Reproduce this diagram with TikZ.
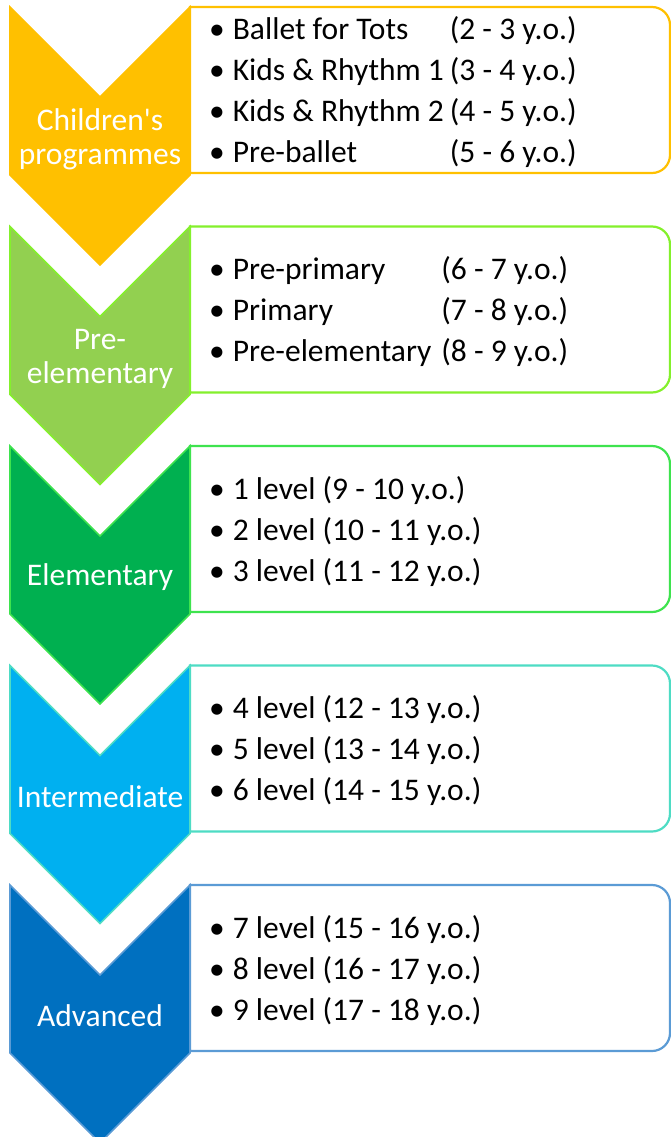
\documentclass[tikz,border=0pt]{standalone}
\usepackage{fontspec}
\setmainfont{Carlito}
\usepackage{xcolor,tikz}
\usetikzlibrary{positioning,calc}
\definecolor{progGold}{HTML}{FFC000}
\definecolor{progGoldLine}{HTML}{FFC000}
\definecolor{progLime}{HTML}{92D050}
\definecolor{progLimeLine}{HTML}{84F02C}
\definecolor{progGreen}{HTML}{00B050}
\definecolor{progGreenLine}{HTML}{3EE34E}
\definecolor{progCyan}{HTML}{00B0F0}
\definecolor{progCyanLine}{HTML}{4EDCC4}
\definecolor{progBlue}{HTML}{0070C0}
\definecolor{progBlueLine}{HTML}{5B9BD5}

\tikzset{
  stageLabel/.style={text=white, align=center, inner sep=0pt,
    font=\fontsize{31.5}{34}\selectfont},
  stageList/.style={text=black, anchor=west, inner sep=0pt,
    font=\fontsize{31.5}{41}\selectfont}
}

\begin{document}
\begin{tikzpicture}[x=1pt, y=-1pt]

\useasboundingbox (0,0) rectangle (671,1137);

\def\xL{10}           % chevron left edge
\def\xR{190}          % chevron right edge / box left edge
\def\xE{670}          % box right edge
\def\yO{7}            % top of first stage
\def\pitch{219.5}     % vertical step between stages
\def\notch{90}        % chevron notch depth
\def\side{168}        % chevron side length
\def\boxH{166}        % box height
\def\rad{18}          % box corner radius

% --- STAGES: box + chevron ---
\foreach \k/\cFill/\cLine in {0/progGold/progGoldLine, 1/progLime/progLimeLine,
    2/progGreen/progGreenLine, 3/progCyan/progCyanLine, 4/progBlue/progBlueLine} {
  \pgfmathsetmacro\T{\yO + \k*\pitch}
  % box, rounded on the right
  \draw[draw=\cLine, line width=2.2pt, fill=white]
    (\xR, \T) -- (\xE - \rad, \T)
    arc[start angle=-90, end angle=0, radius=\rad]
    -- (\xE, \T + \boxH - \rad)
    arc[start angle=0, end angle=90, radius=\rad]
    -- (\xR, \T + \boxH) -- cycle;
  % chevron
  \draw[draw=\cLine, line width=1.6pt, fill=\cFill, line join=miter]
    (\xL, \T) -- (100, \T + \notch) -- (\xR, \T)
    -- (\xR, \T + \side) -- (100, \T + \side + \notch)
    -- (\xL, \T + \side) -- cycle;
}

% --- LABELS ---
\node[stageLabel] (lblChild) at (100, \yO + 132) {Children\textquotesingle s\\programmes};
\node[stageLabel] (lblPreEl) at (100, \yO + \pitch + 132) {Pre-\\elementary};
\node[stageLabel] (lblElem) at (100, \yO + 2*\pitch + 131) {Elementary};
\node[stageLabel] (lblInter) at (100, \yO + 3*\pitch + 131) {Intermediate};
\node[stageLabel] (lblAdv) at (100, \yO + 4*\pitch + 131) {Advanced};

% --- LISTS ---
\node[stageList] (lstChild) at (209, \yO + 86) {%
  \begin{tabular}{@{}l@{\hspace{8pt}}l@{\hspace{6pt}}l@{}}
  \textbullet & Ballet for Tots & (2 - 3 y.o.)\\
  \textbullet & Kids \& Rhythm 1 & (3 - 4 y.o.)\\
  \textbullet & Kids \& Rhythm 2 & (4 - 5 y.o.)\\
  \textbullet & Pre-ballet & (5 - 6 y.o.)
  \end{tabular}};
\node[stageList] (lstPreEl) at (209, \yO + \pitch + 86) {%
  \begin{tabular}{@{}l@{\hspace{8pt}}l@{\hspace{10pt}}l@{}}
  \textbullet & Pre-primary & (6 - 7 y.o.)\\
  \textbullet & Primary & (7 - 8 y.o.)\\
  \textbullet & Pre-elementary & (8 - 9 y.o.)
  \end{tabular}};
\node[stageList] (lstElem) at (209, \yO + 2*\pitch + 86) {%
  \begin{tabular}{@{}l@{\hspace{8pt}}l@{}}
  \textbullet & 1 level (9 - 10 y.o.)\\
  \textbullet & 2 level (10 - 11 y.o.)\\
  \textbullet & 3 level (11 - 12 y.o.)
  \end{tabular}};
\node[stageList] (lstInter) at (209, \yO + 3*\pitch + 86) {%
  \begin{tabular}{@{}l@{\hspace{8pt}}l@{}}
  \textbullet & 4 level (12 - 13 y.o.)\\
  \textbullet & 5 level (13 - 14 y.o.)\\
  \textbullet & 6 level (14 - 15 y.o.)
  \end{tabular}};
\node[stageList] (lstAdv) at (209, \yO + 4*\pitch + 86) {%
  \begin{tabular}{@{}l@{\hspace{8pt}}l@{}}
  \textbullet & 7 level (15 - 16 y.o.)\\
  \textbullet & 8 level (16 - 17 y.o.)\\
  \textbullet & 9 level (17 - 18 y.o.)
  \end{tabular}};

\end{tikzpicture}
\end{document}
